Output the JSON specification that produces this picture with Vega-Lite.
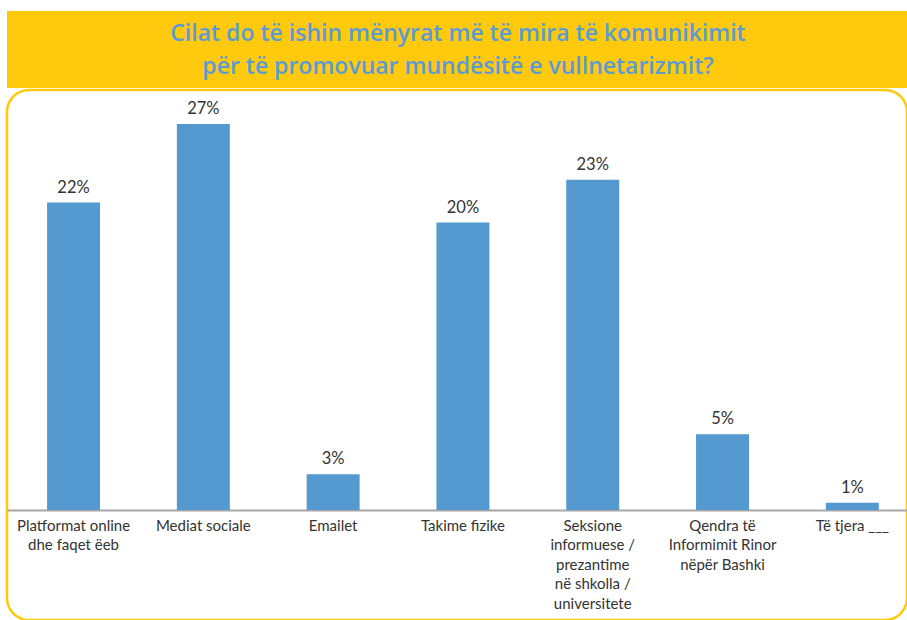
{
  "$schema": "https://vega.github.io/schema/vega-lite/v6.json",
  "background": "white",
  "padding": {"left": 5, "top": 11, "right": 0, "bottom": 0},
  "spacing": 0,
  "config": {"view": {"stroke": null}, "concat": {"spacing": 0}},
  "vconcat": [
    {
      "width": 902,
      "height": 77,
      "view": {"fill": "#FFC90E", "stroke": null},
      "data": {"values": [{"title": "Cilat do të ishin mënyrat më të mira të komunikimit\npër të promovuar mundësitë e vullnetarizmit?"}]},
      "mark": {"type": "text", "lineBreak": "\n", "font": "Open Sans", "fontSize": 23, "fontWeight": 600, "color": "#5B9BD5", "lineHeight": 33, "baseline": "middle", "align": "center", "dy": -16},
      "encoding": {"text": {"field": "title", "type": "nominal"}}
    },
    {
      "width": 900,
      "height": 530,
      "view": {"stroke": "#FFC90E", "strokeWidth": 2.5, "cornerRadius": 22},
      "data": {"values": [
        {"category": "Platformat online|dhe faqet ëeb", "value": 21.5, "label": "22%"},
        {"category": "Mediat sociale", "value": 27, "label": "27%"},
        {"category": "Emailet", "value": 2.5, "label": "3%"},
        {"category": "Takime fizike", "value": 20.1, "label": "20%"},
        {"category": "Seksione|informuese /|prezantime|në shkolla /|universitete", "value": 23.1, "label": "23%"},
        {"category": "Qendra të|Informimit Rinor|nëpër Bashki", "value": 5.3, "label": "5%"},
        {"category": "Të tjera ___", "value": 0.5, "label": "1%"}
      ]},
      "encoding": {
        "x": {
          "field": "category", "type": "nominal", "sort": null,
          "scale": {"paddingInner": 0.592, "paddingOuter": 0.263, "align": 0.587},
          "axis": {
            "title": null, "labelAngle": 0, "ticks": false, "grid": false,
            "domainColor": "#A6A6A6", "domainWidth": 2, "offset": -110,
            "labelFont": "Lato", "labelFontSize": 15, "labelColor": "#333333",
            "labelLineHeight": 19.5, "labelPadding": 8, "labelBaseline": "top",
            "labelLimit": 0, "labelExpr": "split(datum.label, '|')"
          }
        },
        "y": {
          "field": "value", "type": "quantitative",
          "scale": {"domain": [-7.69, 29.37], "nice": false},
          "axis": null
        }
      },
      "layer": [
        {"mark": {"type": "bar", "color": "#5599D1"}},
        {
          "mark": {"type": "text", "baseline": "alphabetic", "dy": -10, "font": "Lato", "fontSize": 16.5, "color": "#333333"},
          "encoding": {"text": {"field": "label", "type": "nominal"}}
        }
      ]
    }
  ]
}
